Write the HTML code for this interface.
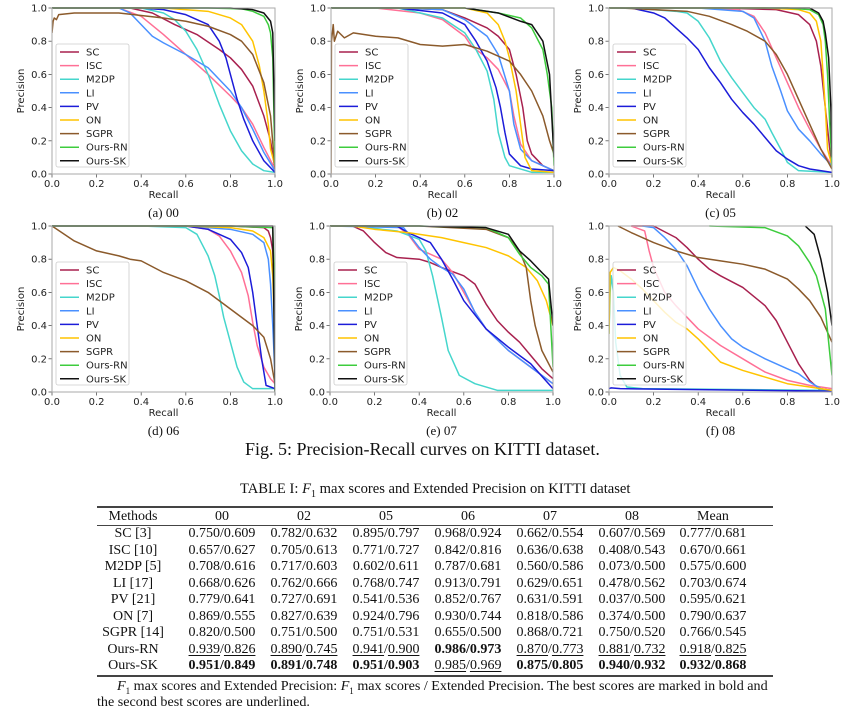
<!DOCTYPE html>
<html><head><meta charset="utf-8"><style>
body{margin:0;background:#fff;}
#wrap{position:relative;width:868px;height:721px;overflow:hidden;background:#fff;font-family:"Liberation Serif",serif;}
svg{position:absolute;left:0;top:0;}
.cap{position:absolute;font-family:"Liberation Serif",serif;color:#111;white-space:nowrap;}
table{position:absolute;left:97px;top:506px;border-collapse:collapse;font-family:"Liberation Serif",serif;font-size:14px;color:#111;border-top:2px solid #444;border-bottom:2px solid #444;table-layout:fixed;width:676px;}
td,th{padding:0;text-align:center;font-weight:normal;height:16.5px;line-height:16.5px;white-space:nowrap;overflow:visible;}
thead th{height:17px;line-height:17px;border-bottom:1px solid #444;}
td:first-child,th:first-child{padding-right:12px;}
td:last-child,th:last-child{padding-right:20px;}
b{font-weight:bold;} u{text-underline-offset:2px;}
</style></head><body>
<div id="wrap">
<svg id="fig" width="868" height="721"></svg>
<div class="cap" style="left:245px;top:439px;font-size:18px;">Fig. 5: Precision-Recall curves on KITTI dataset.</div>
<div class="cap" style="left:240px;top:481px;font-size:14.6px;">TABLE I: <i>F</i><sub style="font-size:10px">1</sub> max scores and Extended Precision on KITTI dataset</div>
<table>
<colgroup><col style="width:84px"><col style="width:82px"><col style="width:82px"><col style="width:82px"><col style="width:82px"><col style="width:82px"><col style="width:82px"><col style="width:100px"></colgroup>
<thead><tr><th>Methods</th><th>00</th><th>02</th><th>05</th><th>06</th><th>07</th><th>08</th><th>Mean</th></tr></thead>
<tbody>
<tr><td>SC [3]</td><td>0.750/0.609</td><td>0.782/0.632</td><td>0.895/0.797</td><td>0.968/0.924</td><td>0.662/0.554</td><td>0.607/0.569</td><td>0.777/0.681</td></tr>
<tr><td>ISC [10]</td><td>0.657/0.627</td><td>0.705/0.613</td><td>0.771/0.727</td><td>0.842/0.816</td><td>0.636/0.638</td><td>0.408/0.543</td><td>0.670/0.661</td></tr>
<tr><td>M2DP [5]</td><td>0.708/0.616</td><td>0.717/0.603</td><td>0.602/0.611</td><td>0.787/0.681</td><td>0.560/0.586</td><td>0.073/0.500</td><td>0.575/0.600</td></tr>
<tr><td>LI [17]</td><td>0.668/0.626</td><td>0.762/0.666</td><td>0.768/0.747</td><td>0.913/0.791</td><td>0.629/0.651</td><td>0.478/0.562</td><td>0.703/0.674</td></tr>
<tr><td>PV [21]</td><td>0.779/0.641</td><td>0.727/0.691</td><td>0.541/0.536</td><td>0.852/0.767</td><td>0.631/0.591</td><td>0.037/0.500</td><td>0.595/0.621</td></tr>
<tr><td>ON [7]</td><td>0.869/0.555</td><td>0.827/0.639</td><td>0.924/0.796</td><td>0.930/0.744</td><td>0.818/0.586</td><td>0.374/0.500</td><td>0.790/0.637</td></tr>
<tr><td>SGPR [14]</td><td>0.820/0.500</td><td>0.751/0.500</td><td>0.751/0.531</td><td>0.655/0.500</td><td>0.868/0.721</td><td>0.750/0.520</td><td>0.766/0.545</td></tr>
<tr><td>Ours-RN</td><td><u>0.939</u>/<u>0.826</u></td><td><u>0.890</u>/<u>0.745</u></td><td><u>0.941</u>/<u>0.900</u></td><td><b>0.986/0.973</b></td><td><u>0.870</u>/<u>0.773</u></td><td><u>0.881</u>/<u>0.732</u></td><td><u>0.918</u>/<u>0.825</u></td></tr>
<tr><td>Ours-SK</td><td><b>0.951/0.849</b></td><td><b>0.891/0.748</b></td><td><b>0.951/0.903</b></td><td><u>0.985</u>/<u>0.969</u></td><td><b>0.875/0.805</b></td><td><b>0.940/0.932</b></td><td><b>0.932/0.868</b></td></tr>
</tbody></table>
<div class="cap" style="left:117px;top:678px;font-size:14.1px;"><i>F</i><sub style="font-size:9px">1</sub> max scores and Extended Precision: <i>F</i><sub style="font-size:9px">1</sub> max scores / Extended Precision. The best scores are marked in bold and</div>
<div class="cap" style="left:97px;top:694px;font-size:14.1px;">the second best scores are underlined.</div>
</div>
<script>
// ---- data: [recall, precision] pairs per sequence / method ----
const pr00_SC=[[0,1],[0.35,1],[0.45,0.97],[0.55,0.9],[0.65,0.84],[0.75,0.75],[0.8,0.7],[0.85,0.63],[0.9,0.53],[0.95,0.35],[0.98,0.2],[1,0.03]];
const pr00_ISC=[[0,1],[0.3,1],[0.4,0.95],[0.5,0.84],[0.6,0.72],[0.7,0.6],[0.8,0.47],[0.85,0.4],[0.9,0.3],[0.95,0.16],[1,0.03]];
const pr00_M2DP=[[0,1],[0.4,1],[0.5,0.97],[0.55,0.93],[0.6,0.86],[0.65,0.75],[0.7,0.6],[0.75,0.42],[0.8,0.26],[0.85,0.14],[0.9,0.06],[0.95,0.02],[1,0.01]];
const pr00_LI=[[0,1],[0.3,1],[0.35,0.97],[0.4,0.9],[0.45,0.83],[0.5,0.79],[0.6,0.72],[0.7,0.64],[0.8,0.5],[0.85,0.4],[0.9,0.27],[0.95,0.13],[1,0.02]];
const pr00_PV=[[0,1],[0.4,1],[0.5,0.99],[0.6,0.96],[0.7,0.9],[0.75,0.8],[0.78,0.7],[0.8,0.6],[0.83,0.45],[0.86,0.33],[0.9,0.2],[0.95,0.08],[1,0.01]];
const pr00_ON=[[0,1],[0.5,1],[0.7,0.98],[0.8,0.94],[0.85,0.9],[0.9,0.8],[0.93,0.65],[0.95,0.5],[0.97,0.3],[0.98,0.15],[1,0.05]];
const pr00_SGPR=[[0,0.85],[0.005,0.92],[0.01,0.94],[0.02,0.93],[0.03,0.96],[0.1,0.97],[0.3,0.97],[0.4,0.955],[0.5,0.94],[0.6,0.92],[0.7,0.89],[0.8,0.84],[0.85,0.8],[0.9,0.72],[0.95,0.55],[0.98,0.35],[1,0.03]];
const pr00_RN=[[0,1],[0.7,1],[0.85,0.995],[0.9,0.98],[0.95,0.95],[0.97,0.9],[0.98,0.85],[0.99,0.7],[1,0.05]];
const pr00_SK=[[0,1],[0.8,1],[0.9,0.99],[0.95,0.97],[0.98,0.92],[0.99,0.85],[1,0.2]];

const pr02_SC=[[0,1],[0.3,1],[0.5,0.99],[0.6,0.94],[0.7,0.88],[0.75,0.83],[0.8,0.75],[0.83,0.6],[0.86,0.4],[0.88,0.2],[0.9,0.12],[0.95,0.05],[1,0.02]];
const pr02_ISC=[[0,1],[0.2,1],[0.4,0.97],[0.5,0.93],[0.6,0.83],[0.63,0.77],[0.7,0.7],[0.75,0.63],[0.8,0.5],[0.82,0.35],[0.85,0.18],[0.9,0.08],[1,0.02]];
const pr02_M2DP=[[0,1],[0.3,1],[0.5,0.94],[0.6,0.85],[0.65,0.75],[0.7,0.62],[0.73,0.45],[0.75,0.25],[0.78,0.1],[0.8,0.05],[0.9,0.01],[1,0.01]];
const pr02_LI=[[0,1],[0.3,1],[0.5,0.99],[0.6,0.93],[0.7,0.83],[0.75,0.72],[0.8,0.5],[0.82,0.3],[0.85,0.15],[0.9,0.08],[1,0.02]];
const pr02_PV=[[0,1],[0.3,1],[0.5,0.97],[0.6,0.9],[0.65,0.8],[0.7,0.68],[0.74,0.52],[0.76,0.4],[0.78,0.25],[0.8,0.12],[0.85,0.05],[0.9,0.03],[1,0.02]];
const pr02_ON=[[0,1],[0.6,1],[0.7,0.97],[0.75,0.9],[0.78,0.8],[0.8,0.7],[0.83,0.5],[0.85,0.3],[0.87,0.1],[0.9,0.02],[1,0.01]];
const pr02_SGPR=[[0,0],[0.002,0.8],[0.01,0.9],[0.015,0.8],[0.03,0.86],[0.06,0.82],[0.1,0.85],[0.2,0.83],[0.3,0.82],[0.4,0.78],[0.5,0.77],[0.6,0.78],[0.7,0.74],[0.8,0.68],[0.85,0.6],[0.9,0.5],[0.95,0.35],[0.98,0.2],[1,0.12]];
const pr02_RN=[[0,1],[0.6,1],[0.75,0.97],[0.85,0.94],[0.9,0.88],[0.95,0.75],[0.97,0.6],[0.99,0.4],[1,0.05]];
const pr02_SK=[[0,1],[0.6,1],[0.75,0.97],[0.85,0.92],[0.9,0.9],[0.95,0.8],[0.98,0.6],[1,0.1]];

const pr05_SC=[[0,1],[0.5,1],[0.75,0.99],[0.85,0.96],[0.9,0.9],[0.93,0.8],[0.95,0.65],[0.97,0.4],[0.99,0.15],[1,0.05]];
const pr05_ISC=[[0,1],[0.4,1],[0.58,0.99],[0.65,0.95],[0.7,0.85],[0.75,0.7],[0.8,0.55],[0.85,0.4],[0.9,0.27],[0.95,0.15],[1,0.05]];
const pr05_M2DP=[[0.1,1],[0.3,0.98],[0.35,0.97],[0.4,0.92],[0.45,0.82],[0.5,0.68],[0.55,0.58],[0.6,0.49],[0.65,0.4],[0.7,0.33],[0.73,0.25],[0.77,0.15],[0.8,0.07],[0.85,0.02],[1,0.01]];
const pr05_LI=[[0,1],[0.4,1],[0.6,0.98],[0.65,0.94],[0.7,0.8],[0.73,0.65],[0.77,0.5],[0.8,0.38],[0.85,0.27],[0.9,0.2],[0.95,0.12],[1,0.05]];
const pr05_PV=[[0.1,1],[0.2,0.97],[0.25,0.94],[0.3,0.88],[0.35,0.82],[0.4,0.75],[0.45,0.64],[0.5,0.55],[0.55,0.45],[0.6,0.37],[0.65,0.3],[0.7,0.22],[0.75,0.14],[0.8,0.09],[0.85,0.05],[0.9,0.03],[1,0.01]];
const pr05_ON=[[0,1],[0.7,1],[0.85,0.99],[0.9,0.97],[0.93,0.92],[0.95,0.8],[0.96,0.6],[0.97,0.4],[0.98,0.15],[1,0.05]];
const pr05_SGPR=[[0.05,1],[0.2,0.99],[0.35,0.98],[0.45,0.95],[0.55,0.9],[0.62,0.86],[0.7,0.8],[0.75,0.72],[0.8,0.6],[0.85,0.45],[0.9,0.3],[0.95,0.15],[1,0.03]];
const pr05_RN=[[0,1],[0.8,1],[0.9,0.99],[0.94,0.96],[0.96,0.9],[0.97,0.8],[0.98,0.6],[0.99,0.3],[1,0.05]];
const pr05_SK=[[0,1],[0.9,1],[0.94,0.97],[0.96,0.92],[0.97,0.85],[0.985,0.7],[0.995,0.4],[1,0.1]];

const pr06_SC=[[0,1],[0.8,1],[0.95,0.99],[0.97,0.97],[0.98,0.93],[0.99,0.85],[1,0.5]];
const pr06_ISC=[[0,1],[0.6,1],[0.7,0.98],[0.75,0.94],[0.8,0.85],[0.85,0.72],[0.88,0.58],[0.9,0.42],[0.92,0.28],[0.95,0.15],[0.98,0.08],[1,0.05]];
const pr06_M2DP=[[0,1],[0.4,1],[0.6,0.99],[0.65,0.95],[0.7,0.82],[0.73,0.7],[0.75,0.58],[0.77,0.45],[0.8,0.3],[0.83,0.15],[0.86,0.06],[0.9,0.02],[1,0.02]];
const pr06_LI=[[0,1],[0.6,1],[0.8,0.98],[0.9,0.95],[0.95,0.9],[0.97,0.8],[0.98,0.65],[0.99,0.4],[1,0.1]];
const pr06_PV=[[0,1],[0.6,1],[0.7,0.98],[0.8,0.92],[0.85,0.84],[0.88,0.75],[0.9,0.6],[0.92,0.4],[0.94,0.2],[0.96,0.04],[1,0.02]];
const pr06_ON=[[0,1],[0.6,1],[0.8,0.99],[0.9,0.97],[0.95,0.93],[0.98,0.85],[0.99,0.7],[1,0.3]];
const pr06_SGPR=[[0,1],[0.1,0.91],[0.2,0.85],[0.3,0.82],[0.35,0.8],[0.4,0.79],[0.5,0.72],[0.6,0.67],[0.7,0.6],[0.8,0.5],[0.9,0.4],[0.95,0.33],[0.98,0.2],[1,0.05]];
const pr06_RN=[[0,1],[0.8,1],[0.99,0.99],[1,0.5],[1,0]];
const pr06_SK=[[0,1],[0.99,1],[1,0]];

const pr07_SC=[[0.1,1],[0.15,0.97],[0.2,0.9],[0.25,0.84],[0.3,0.81],[0.4,0.8],[0.45,0.78],[0.5,0.75],[0.6,0.7],[0.65,0.65],[0.7,0.53],[0.75,0.43],[0.8,0.36],[0.85,0.3],[0.9,0.22],[0.95,0.14],[1,0.08]];
const pr07_ISC=[[0,1],[0.3,1],[0.35,0.95],[0.4,0.86],[0.5,0.8],[0.55,0.72],[0.6,0.6],[0.65,0.48],[0.7,0.38],[0.8,0.25],[0.9,0.15],[1,0.05]];
const pr07_M2DP=[[0,1],[0.1,1],[0.3,0.97],[0.4,0.92],[0.43,0.85],[0.46,0.7],[0.5,0.45],[0.53,0.25],[0.58,0.1],[0.65,0.05],[0.75,0.01],[1,0.01]];
const pr07_LI=[[0,1],[0.33,0.99],[0.36,0.94],[0.4,0.87],[0.45,0.8],[0.5,0.75],[0.55,0.71],[0.6,0.62],[0.65,0.48],[0.7,0.38],[0.8,0.25],[0.9,0.15],[1,0.05]];
const pr07_PV=[[0,1],[0.3,1],[0.35,0.96],[0.45,0.9],[0.5,0.8],[0.55,0.68],[0.6,0.55],[0.7,0.38],[0.8,0.27],[0.9,0.17],[1,0.02]];
const pr07_ON=[[0,1],[0.1,1],[0.2,0.98],[0.35,0.96],[0.5,0.93],[0.6,0.9],[0.7,0.87],[0.8,0.82],[0.88,0.75],[0.93,0.67],[0.97,0.55],[1,0.4]];
const pr07_SGPR=[[0,1],[0.4,1],[0.7,0.98],[0.8,0.93],[0.85,0.85],[0.88,0.75],[0.9,0.55],[0.92,0.4],[0.95,0.25],[1,0.12]];
const pr07_RN=[[0,1],[0.4,1],[0.7,0.99],[0.8,0.93],[0.85,0.83],[0.9,0.75],[0.95,0.7],[0.98,0.65],[1,0.15]];
const pr07_SK=[[0,1],[0.4,1],[0.7,0.99],[0.8,0.95],[0.85,0.85],[0.9,0.79],[0.95,0.72],[0.98,0.68],[1,0.4]];

const pr08_SC=[[0.1,1],[0.2,1],[0.3,0.93],[0.35,0.87],[0.4,0.8],[0.45,0.74],[0.5,0.7],[0.6,0.63],[0.7,0.52],[0.75,0.43],[0.8,0.3],[0.85,0.17],[0.9,0.07],[0.94,0.02],[1,0.01]];
const pr08_ISC=[[0.1,1],[0.16,0.97],[0.18,0.85],[0.2,0.75],[0.25,0.6],[0.3,0.52],[0.4,0.38],[0.5,0.28],[0.6,0.2],[0.7,0.12],[0.8,0.07],[0.9,0.04],[1,0.02]];
const pr08_M2DP=[[0,0.35],[0.005,0.6],[0.01,0.7],[0.02,0.6],[0.03,0.3],[0.05,0.1],[0.08,0.03],[0.15,0.02],[1,0.01]];
const pr08_LI=[[0.15,1],[0.2,0.99],[0.25,0.93],[0.3,0.86],[0.35,0.76],[0.4,0.62],[0.45,0.5],[0.5,0.4],[0.55,0.32],[0.6,0.27],[0.7,0.2],[0.8,0.14],[0.85,0.11],[0.9,0.06],[0.95,0.02],[1,0.01]];
const pr08_PV=[[0,0.02],[0.01,0.025],[0.05,0.02],[1,0.005]];
const pr08_ON=[[0,0.35],[0.005,0.72],[0.02,0.75],[0.05,0.73],[0.1,0.68],[0.15,0.62],[0.2,0.55],[0.25,0.48],[0.3,0.42],[0.35,0.38],[0.4,0.32],[0.5,0.18],[0.6,0.13],[0.7,0.09],[0.8,0.05],[0.9,0.03],[1,0.01]];
const pr08_SGPR=[[0.04,1],[0.1,0.96],[0.2,0.9],[0.3,0.85],[0.4,0.81],[0.5,0.79],[0.6,0.77],[0.7,0.74],[0.8,0.68],[0.85,0.62],[0.9,0.55],[0.95,0.45],[1,0.3]];
const pr08_RN=[[0.45,1],[0.7,0.99],[0.8,0.94],[0.85,0.88],[0.9,0.78],[0.93,0.7],[0.97,0.5],[1,0.1]];
const pr08_SK=[[0.88,1],[0.92,0.95],[0.95,0.8],[0.98,0.6],[1,0.4]];

const methods=['SC','ISC','M2DP','LI','PV','ON','SGPR','Ours-RN','Ours-SK'];
const colors=['#a8214f','#ff7096','#45d6cc','#4a90ff','#1c1cd9','#ffc400','#8b5a2b','#3dcc3d','#111111'];
const tickLabels=['0.0','0.2','0.4','0.6','0.8','1.0'];
const tickValues=[0,0.2,0.4,0.6,0.8,1.0];
const seqData={
 '00':[pr00_SC,pr00_ISC,pr00_M2DP,pr00_LI,pr00_PV,pr00_ON,pr00_SGPR,pr00_RN,pr00_SK],
 '02':[pr02_SC,pr02_ISC,pr02_M2DP,pr02_LI,pr02_PV,pr02_ON,pr02_SGPR,pr02_RN,pr02_SK],
 '05':[pr05_SC,pr05_ISC,pr05_M2DP,pr05_LI,pr05_PV,pr05_ON,pr05_SGPR,pr05_RN,pr05_SK],
 '06':[pr06_SC,pr06_ISC,pr06_M2DP,pr06_LI,pr06_PV,pr06_ON,pr06_SGPR,pr06_RN,pr06_SK],
 '07':[pr07_SC,pr07_ISC,pr07_M2DP,pr07_LI,pr07_PV,pr07_ON,pr07_SGPR,pr07_RN,pr07_SK],
 '08':[pr08_SC,pr08_ISC,pr08_M2DP,pr08_LI,pr08_PV,pr08_ON,pr08_SGPR,pr08_RN,pr08_SK]
};
const panels=[
 {seq:'00',tag:'(a)',ox:52,oy:8},{seq:'02',tag:'(b)',ox:331,oy:8},{seq:'05',tag:'(c)',ox:609,oy:8},
 {seq:'06',tag:'(d)',ox:52,oy:226},{seq:'07',tag:'(e)',ox:330,oy:226},{seq:'08',tag:'(f)',ox:609,oy:226}
];
const W=223,H=166;
const NS='http://www.w3.org/2000/svg';
const svg=document.getElementById('fig');
function mk(tag,attrs,parent){const e=document.createElementNS(NS,tag);for(const k in attrs)e.setAttribute(k,attrs[k]);(parent||svg).appendChild(e);return e;}
const SANS='"DejaVu Sans","Liberation Sans",sans-serif';
panels.forEach(p=>{
  const g=mk('g',{});
  
  
  const xs=r=>p.ox+r*W, ys=v=>p.oy+(1-v)*H;
  tickValues.forEach((t,i)=>{
    mk('line',{x1:xs(t),x2:xs(t),y1:p.oy+H,y2:p.oy+H+3.5,stroke:'#555','stroke-width':0.8},g);
    const tx=mk('text',{x:xs(t),y:p.oy+H+13,'text-anchor':'middle','font-size':10,'font-family':SANS,fill:'#222'},g);
    tx.textContent=tickLabels[i];
    
    
    mk('line',{x1:p.ox-3.5,x2:p.ox,y1:ys(t),y2:ys(t),stroke:'#555','stroke-width':0.8},g);
    const ty=mk('text',{x:p.ox-5,y:ys(t)+3.5,'text-anchor':'end','font-size':10,'font-family':SANS,fill:'#222'},g);
    ty.textContent=tickLabels[i];
    
    
  });
  const xl=mk('text',{x:p.ox+W/2,y:p.oy+H+24,'text-anchor':'middle','font-size':10,'font-family':SANS,fill:'#222'},g);
  xl.textContent='Recall';
  
  
  const yl=mk('text',{x:0,y:0,'text-anchor':'middle','font-size':10,'font-family':SANS,fill:'#222',transform:`translate(${p.ox-28},${p.oy+H/2}) rotate(-90)`},g);
  yl.textContent='Precision';
  
  
  const clip=mk('clipPath',{id:'clip'+p.seq},g);
  mk('rect',{x:p.ox,y:p.oy-1,width:W,height:H+2},clip);
  seqData[p.seq].forEach((pts,i)=>{
    const d=pts.map((q,j)=>(j?'L':'M')+xs(q[0]).toFixed(2)+','+ys(q[1]).toFixed(2)).join(' ');
    const path=mk('path',{d:d,fill:'none',stroke:colors[i],'stroke-width':1.5,'stroke-linejoin':'round','clip-path':`url(#clip${p.seq})`},g);
    
    
  });
  mk('rect',{x:p.ox,y:p.oy,width:W,height:H,fill:'none',stroke:'#aaa','stroke-width':1},g);
  const lx=p.ox+4, ly=p.oy+36;
  const lg=mk('g',{},g);
  
  
  mk('rect',{x:lx,y:ly,width:73,height:123,rx:2,fill:'rgba(255,255,255,0.8)',stroke:'#ccc','stroke-width':0.8},lg);
  methods.forEach((m,i)=>{
    const cy=ly+8+i*13.6;
    mk('line',{x1:lx+4,x2:lx+23,y1:cy,y2:cy,stroke:colors[i],'stroke-width':1.5},lg);
    const t=mk('text',{x:lx+30,y:cy+3.5,'font-size':10,'font-family':SANS,fill:'#222'},lg);
    t.textContent=m;
    
    
  });
  const cap=mk('text',{x:p.ox+W/2,y:p.oy+H+43,'text-anchor':'middle','font-size':13,'font-family':'"Liberation Serif",serif',fill:'#111'},g);
  cap.textContent=p.tag+' '+p.seq;
  
  
});
</script>
</body></html>
